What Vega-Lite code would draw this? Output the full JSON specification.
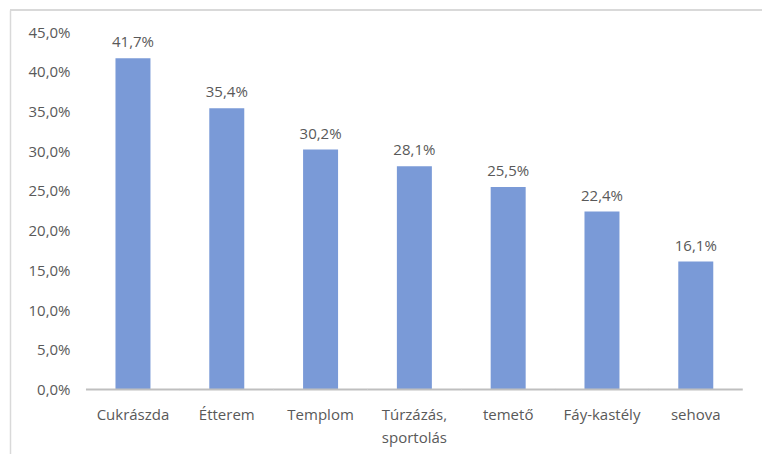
{
  "$schema": "https://vega.github.io/schema/vega-lite/v6.json",
  "width": 752,
  "height": 444,
  "autosize": {"type": "none"},
  "padding": {"left": 10, "top": 10, "right": 0, "bottom": 0},
  "background": "#ffffff",
  "config": {
    "view": {"stroke": null},
    "locale": {"number": {"decimal": ",", "thousands": " ", "grouping": [3], "currency": ["", " Ft"]}},
    "font": "Open Sans"
  },
  "data": {
    "values": [
      {"hely": "Cukrászda", "arany": 0.417},
      {"hely": "Étterem", "arany": 0.354},
      {"hely": "Templom", "arany": 0.302},
      {"hely": "Túrzázás, sportolás", "arany": 0.281},
      {"hely": "temető", "arany": 0.255},
      {"hely": "Fáy-kastély", "arany": 0.224},
      {"hely": "sehova", "arany": 0.161}
    ]
  },
  "layer": [
    {
      "mark": {"type": "bar", "color": "#7a9ad7"},
      "encoding": {
        "x": {
          "field": "hely",
          "type": "nominal",
          "sort": null,
          "scale": {"paddingInner": 0.627, "paddingOuter": 0.822, "align": 0.684},
          "axis": {
            "title": null,
            "domain": false,
            "ticks": false,
            "tickSize": 0,
            "labelAngle": 0,
            "labelPadding": 0,
            "offset": -47,
            "labelFont": "Open Sans",
            "labelFontSize": 15,
            "labelColor": "#595959",
            "labelBaseline": "top",
            "labelLineHeight": 23,
            "labelExpr": "datum.label == 'Túrzázás, sportolás' ? ['Túrzázás,', 'sportolás'] : datum.label"
          }
        },
        "y": {
          "field": "arany",
          "type": "quantitative",
          "scale": {"domain": [-0.0812, 0.4777], "nice": false, "zero": false},
          "axis": {
            "title": null,
            "values": [0, 0.05, 0.1, 0.15, 0.2, 0.25, 0.3, 0.35, 0.4, 0.45],
            "format": ".1%",
            "grid": false,
            "ticks": false,
            "tickSize": 0,
            "domain": true,
            "domainColor": "#d9d9d9",
            "domainWidth": 1.5,
            "labelPadding": -60,
            "labelAlign": "right",
            "labelFont": "Open Sans",
            "labelFontSize": 15,
            "labelColor": "#595959"
          }
        }
      }
    },
    {
      "mark": {"type": "text", "baseline": "middle", "dy": -16, "fontSize": 15, "color": "#595959", "font": "Open Sans"},
      "encoding": {
        "x": {"field": "hely", "type": "nominal", "sort": null},
        "y": {"field": "arany", "type": "quantitative"},
        "text": {"field": "arany", "type": "quantitative", "format": ".1%"}
      }
    },
    {
      "mark": {"type": "tick", "orient": "horizontal", "size": 94, "thickness": 2, "color": "#bfbfbf", "opacity": 1},
      "encoding": {
        "x": {"field": "hely", "type": "nominal", "sort": null},
        "y": {"datum": 0, "type": "quantitative"}
      }
    },
    {
      "mark": {"type": "rule", "color": "#d9d9d9", "strokeWidth": 1.5},
      "encoding": {
        "y": {"datum": 0.4777, "type": "quantitative"}
      }
    }
  ]
}
